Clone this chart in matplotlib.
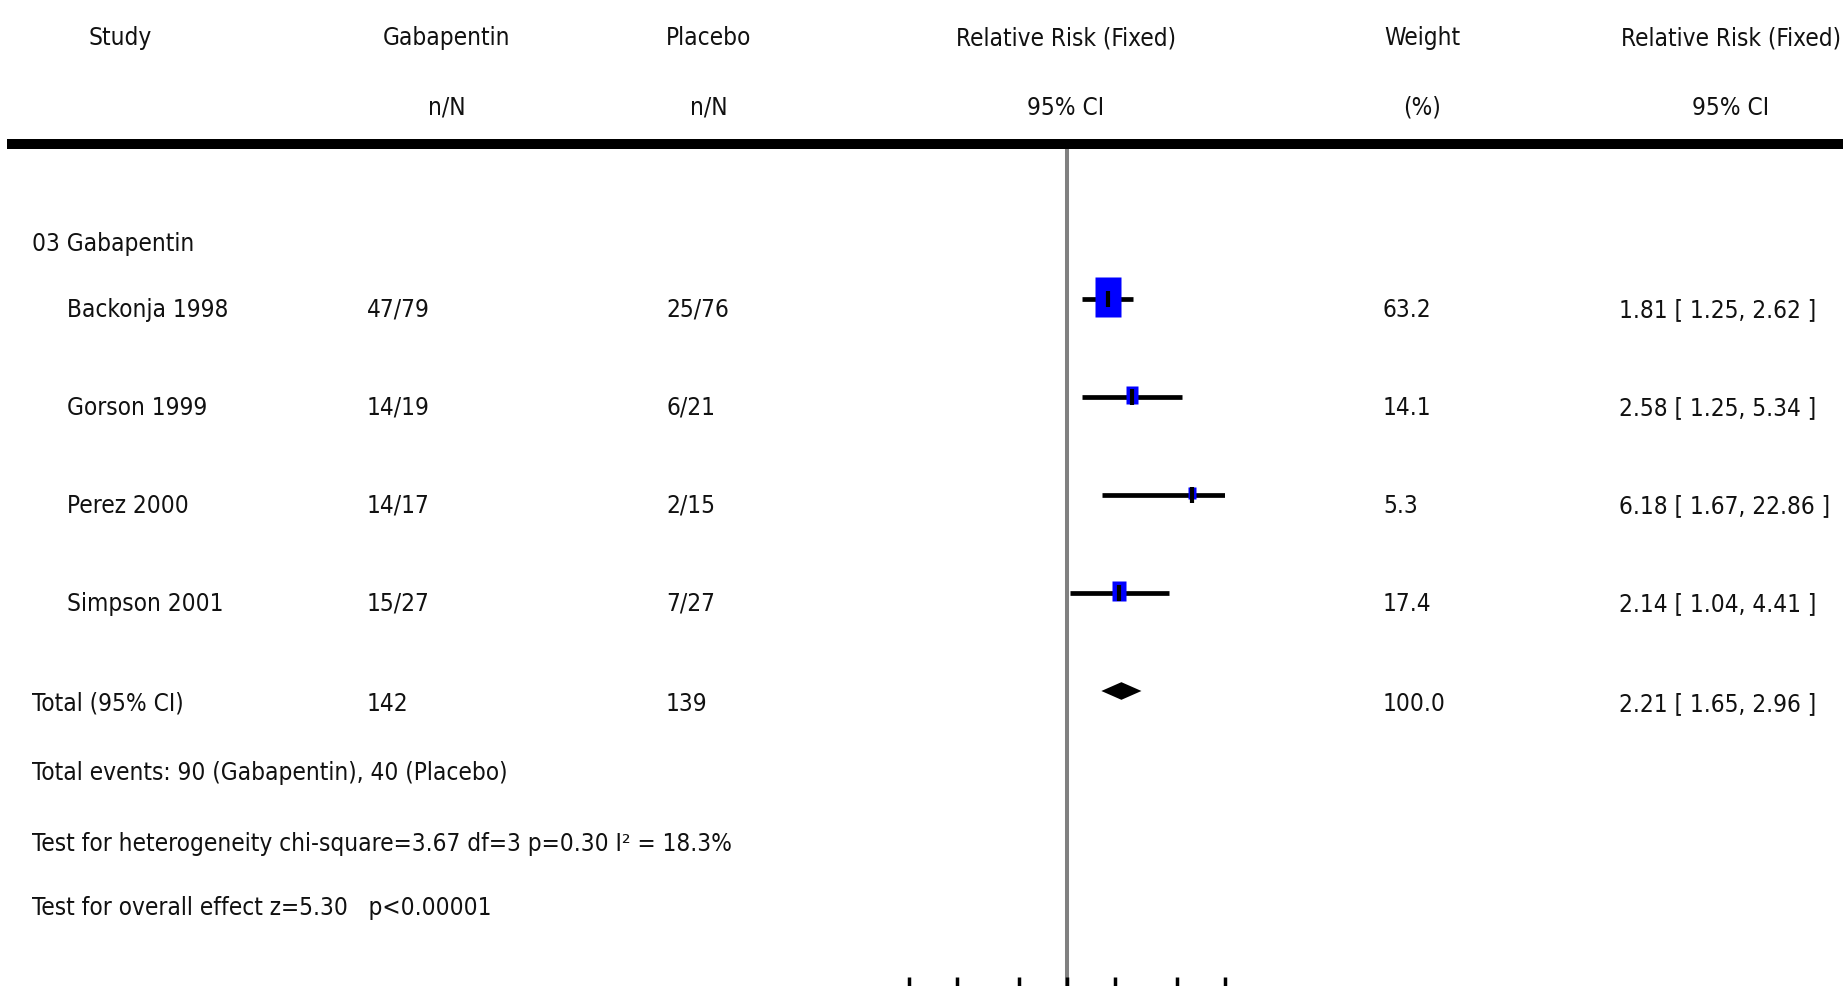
import numpy as np
import matplotlib.pyplot as plt
from matplotlib.lines import Line2D
from matplotlib.path import Path
import matplotlib.transforms as mtransforms
from matplotlib import font_manager

# study level data
studies = ['Backonja 1998', 'Gorson 1999', 'Perez 2000', 'Simpson 2001']
gaba_nN = ['47/79', '14/19', '14/17', '15/27']
plac_nN = ['25/76', '6/21', '2/15', '7/27']
rr = [1.81, 2.58, 6.18, 2.14]
rr_lo = [1.25, 1.25, 1.67, 1.04]
rr_hi = [2.62, 5.34, 22.86, 4.41]
weight = [63.2, 14.1, 5.3, 17.4]

# pooled result
total_gaba, total_plac = 142, 139
total_weight = 100.0
total_rr, total_lo, total_hi = 2.21, 1.65, 2.96

header1 = ['Study', 'Gabapentin', 'Placebo', 'Relative Risk (Fixed)', 'Weight', 'Relative Risk (Fixed)']
header2 = ['', 'n/N', 'n/N', '95% CI', '(%)', '95% CI']
footer = ['Total events: 90 (Gabapentin), 40 (Placebo)',
          'Test for heterogeneity chi-square=3.67 df=3 p=0.30 I\u00b2 = 18.3%',
          'Test for overall effect z=5.30   p<0.00001']
ticks = [0.1, 0.2, 0.5, 1, 2, 5, 10]

W, H = 1843, 987
fig = plt.figure(figsize=(W / 100, H / 100), dpi=100)

# narrow face if there is one, else a smaller regular one
names = {f.name for f in font_manager.fontManager.ttflist}
condensed = [f for f in font_manager.fontManager.ttflist
             if f.name == 'DejaVu Sans' and f.stretch in ('condensed', 600 - 100, 'semi-condensed')]
if 'Liberation Sans Narrow' in names:
    fam, stretch, fs = 'Liberation Sans Narrow', 'normal', 19
elif condensed:
    fam, stretch, fs = 'DejaVu Sans', 'condensed', 17.5
else:
    fam, stretch, fs = 'DejaVu Sans', 'normal', 15.5
col = '#111111'

# forest panel on log scale
ax = fig.add_axes([909 / W, 0, (1225 - 909) / W, 1 - 150 / H])
ax.set_xscale('log')
ax.set_xlim(0.1, 10)
ax.set_ylim(7.01, -1.53)
for s in ax.spines.values():
    s.set_visible(False)
ax.set_xticks(ticks)
ax.set_xticks([], minor=True)
ax.tick_params(axis='x', direction='in', length=6.5, width=2.5, labelbottom=False, color='k')
ax.set_yticks([])
ax.axvline(1, color='#808080', lw=2.9, zorder=1)

rows = np.arange(len(studies))
box = Path([(-1 / 3, -0.5), (1 / 3, -0.5), (1 / 3, 0.5), (-1 / 3, 0.5), (-1 / 3, -0.5)],
           [Path.MOVETO, Path.LINETO, Path.LINETO, Path.LINETO, Path.CLOSEPOLY])
for i in rows:
    ax.plot([rr_lo[i], rr_hi[i]], [i, i], color='k', lw=3.4, solid_capstyle='butt', zorder=2)
    ax.plot(rr[i], i - 0.02, marker=box, ms=3.6 * np.sqrt(weight[i]), color='#0000ff',
            mec='none', zorder=3)
    ax.plot(rr[i], i, marker='|', ms=11, mew=3, color='k', zorder=4)

t = len(studies)
ax.fill([total_lo, total_rr, total_hi, total_rr], [t, t - 0.09, t, t + 0.09], color='k', lw=0)

# table text, y follows the forest rows
tr = mtransforms.blended_transform_factory(fig.transFigure, ax.transData)
def put(x, y, s, ha='left'):
    fig.text(x / W, y, s, transform=tr, ha=ha, va='center', fontsize=fs, family=fam,
             fontstretch=stretch, color=col)

hx = [120, 447, 709, 1066, 1422, 1731]
for x, a, b in zip(hx, header1, header2):
    put(x, -2.67, a, 'center')
    if b:
        put(x, -1.96, b, 'center')

put(32, -0.57, '03 Gabapentin')
for i in rows:
    y = i + 0.1
    put(67, y, studies[i])
    put(367, y, gaba_nN[i])
    put(666, y, plac_nN[i])
    put(1383, y, f'{weight[i]:.1f}')
    put(1619, y, f'{rr[i]:.2f} [ {rr_lo[i]:.2f}, {rr_hi[i]:.2f} ]')

y = t + 0.12
put(32, y, 'Total (95% CI)')
put(367, y, str(total_gaba))
put(666, y, str(total_plac))
put(1383, y, f'{total_weight:.1f}')
put(1619, y, f'{total_rr:.2f} [ {total_lo:.2f}, {total_hi:.2f} ]')

for y, s in zip([4.83, 5.55, 6.20], footer):
    put(32, y, s)

fig.add_artist(Line2D([12 / W, 1], [1 - 145 / H] * 2, color='k', lw=7.2))

fig.savefig('out.png', dpi=100)
